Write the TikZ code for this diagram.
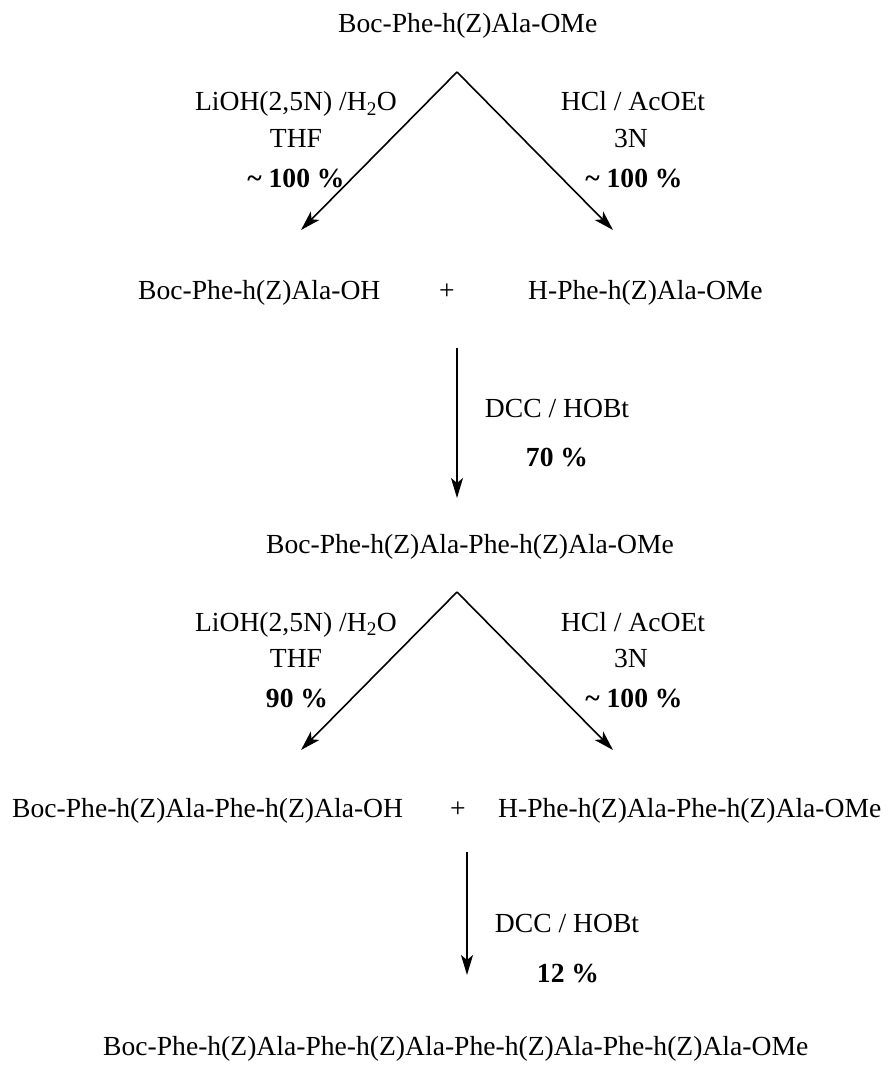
\documentclass[tikz,border=0pt]{standalone}
\usepackage{fontspec}
\setmainfont{Liberation Serif}
\usetikzlibrary{arrows.meta}
\begin{document}
\begin{tikzpicture}[x=1pt,y=-1pt,
  txt/.style={inner sep=0pt,font=\fontsize{27.6}{33}\selectfont},
  btxt/.style={inner sep=0pt,font=\fontsize{27.6}{33}\selectfont\bfseries},
  rxn/.style={line width=1.6pt,-{Stealth[length=20pt,width=12pt,inset=5pt]}}]
\useasboundingbox (0,0) rectangle (894,1070);
% title
\node[txt,anchor=base west] (t0) at (338,33) {Boc-Phe-h(Z)Ala-OMe};
\coordinate (apex1) at (457,72);
\coordinate (tipL1) at (301,230);
\coordinate (tipR1) at (613,230);
\draw[rxn] (apex1) -- (tipL1);
\draw[rxn] (apex1) -- (tipR1);
% labels 1
\node[txt,anchor=base] (l1a) at (296,111) {LiOH(2,5N) /H\textsubscript{2}O};
\node[txt,anchor=base] (l1b) at (296,147) {THF};
\node[btxt,anchor=base] (l1c) at (296,187) {\textasciitilde{} 100 \%};
\node[txt,anchor=base] (r1a) at (633,111) {HCl / AcOEt};
\node[txt,anchor=base] (r1b) at (631,147) {3N};
\node[btxt,anchor=base] (r1c) at (634,187) {\textasciitilde{} 100 \%};
% row 2
\node[txt,anchor=base west] (a2) at (138,299) {Boc-Phe-h(Z)Ala-OH};
\node[txt,anchor=base] (p2) at (447,299) {+};
\node[txt,anchor=base west] (b2) at (528,299) {H-Phe-h(Z)Ala-OMe};
\coordinate (v1s) at (457,348);
\coordinate (v1e) at (457,498);
\draw[rxn] (v1s) -- (v1e);
\node[txt,anchor=base] (d1a) at (557,417) {DCC / HOBt};
\node[btxt,anchor=base] (d1b) at (557,466) {70 \%};
% row 3
\node[txt,anchor=base] (t3) at (470,553) {Boc-Phe-h(Z)Ala-Phe-h(Z)Ala-OMe};
\coordinate (apex2) at (457,592);
\coordinate (tipL2) at (301,750);
\coordinate (tipR2) at (613,750);
\draw[rxn] (apex2) -- (tipL2);
\draw[rxn] (apex2) -- (tipR2);
\node[txt,anchor=base] (l2a) at (296,631) {LiOH(2,5N) /H\textsubscript{2}O};
\node[txt,anchor=base] (l2b) at (296,667) {THF};
\node[btxt,anchor=base] (l2c) at (297,707) {90 \%};
\node[txt,anchor=base] (r2a) at (633,631) {HCl / AcOEt};
\node[txt,anchor=base] (r2b) at (631,667) {3N};
\node[btxt,anchor=base] (r2c) at (634,707) {\textasciitilde{} 100 \%};
% row 4
\node[txt,anchor=base west] (a4) at (12,817) {Boc-Phe-h(Z)Ala-Phe-h(Z)Ala-OH};
\node[txt,anchor=base] (p4) at (458,817) {+};
\node[txt,anchor=base west] (b4) at (498,817) {H-Phe-h(Z)Ala-Phe-h(Z)Ala-OMe};
\coordinate (v2s) at (467,852);
\coordinate (v2e) at (467,975);
\draw[rxn] (v2s) -- (v2e);
\node[txt,anchor=base] (d2a) at (567,932) {DCC / HOBt};
\node[btxt,anchor=base] (d2b) at (568,982) {12 \%};
% final
\node[txt,anchor=base west] (t5) at (103,1055) {Boc-Phe-h(Z)Ala-Phe-h(Z)Ala-Phe-h(Z)Ala-Phe-h(Z)Ala-OMe};
\end{tikzpicture}
\end{document}
